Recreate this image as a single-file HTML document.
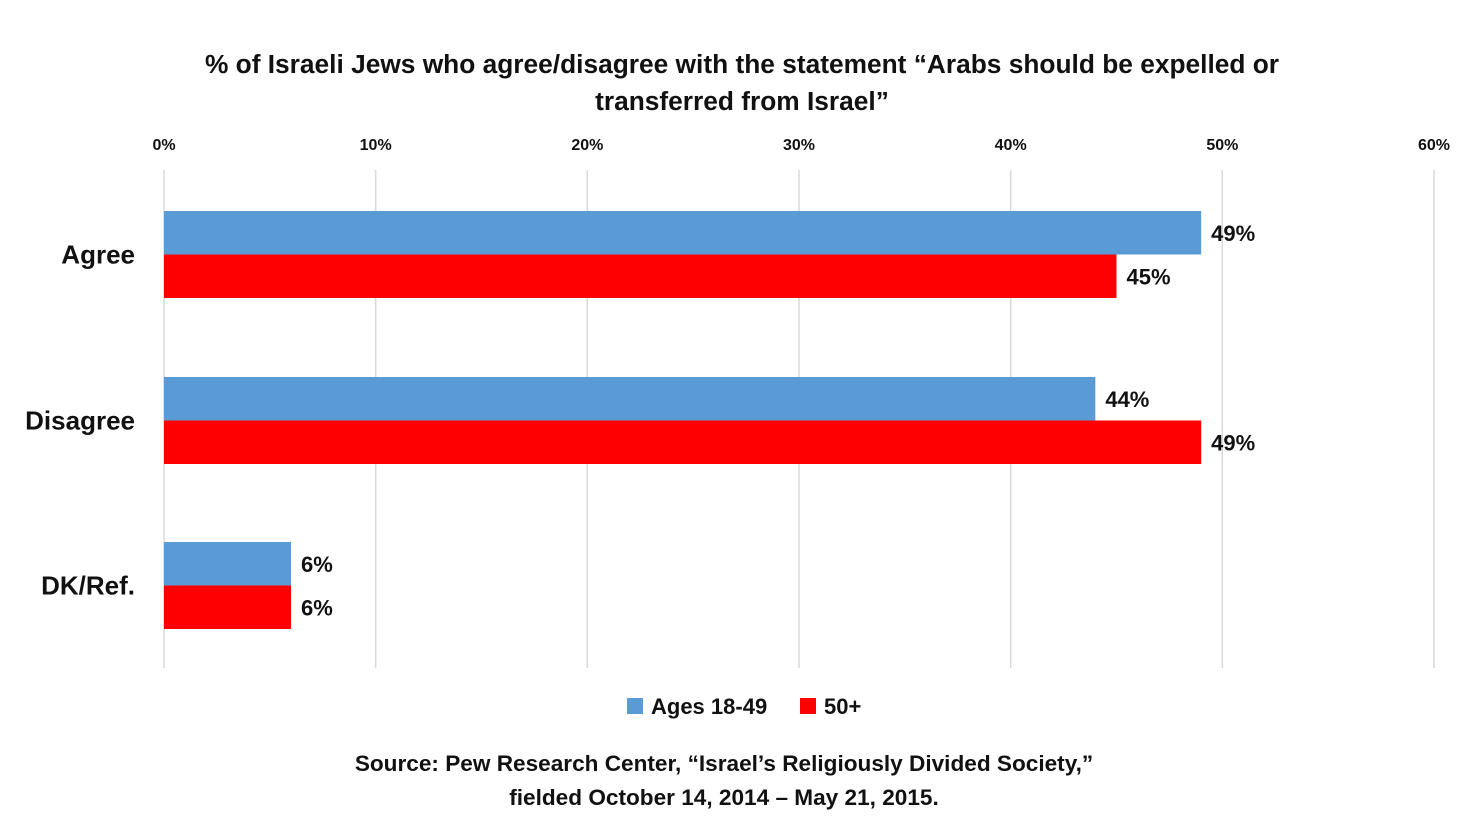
<!DOCTYPE html>
<html><head><meta charset="utf-8">
<style>
html,body{margin:0;padding:0;background:#fff;}
body{width:1484px;height:834px;overflow:hidden;font-family:"Liberation Sans",sans-serif;}
svg text{font-family:"Liberation Sans",sans-serif;font-weight:bold;fill:#111;}
</style></head>
<body>
<svg id="chart" width="1484" height="834" xmlns="http://www.w3.org/2000/svg">
<text x="742" y="73" text-anchor="middle" font-size="26.3">% of Israeli Jews who agree/disagree with the statement “Arabs should be expelled or</text>
<text x="742" y="110" text-anchor="middle" font-size="26.3">transferred from Israel”</text>
<g id="grid"></g>
<g id="bars"></g>
<g>
<rect x="627" y="698" width="16" height="16" fill="#5b9bd5"/>
<text x="651" y="714" font-size="22">Ages 18-49</text>
<rect x="800" y="698" width="16" height="16" fill="#ff0000"/>
<text x="824" y="714" font-size="22">50+</text>
</g>
<text x="724" y="771" text-anchor="middle" font-size="22.6">Source: Pew Research Center, “Israel’s Religiously Divided Society,”</text>
<text x="724" y="805" text-anchor="middle" font-size="22.6">fielded October 14, 2014 – May 21, 2015.</text>
</svg>
<script>
const categories = ["Agree","Disagree","DK/Ref."];
const youngValues = [49,44,6];
const olderValues = [45,49,6];
const tickValues = [0,10,20,30,40,50,60];
const tickLabels = ["0%","10%","20%","30%","40%","50%","60%"];

const NS="http://www.w3.org/2000/svg";
const x0=164, x1=1434, xMax=60;
const xs=v=>x0+(v/xMax)*(x1-x0);
const catTop=[211,377,542];
const barH=43.5;
function mk(tag,attrs,parent,text){const e=document.createElementNS(NS,tag);for(const k in attrs)e.setAttribute(k,attrs[k]);if(text!==undefined)e.textContent=text;parent.appendChild(e);return e;}
const grid=document.getElementById('grid');
tickValues.forEach((t,i)=>{
  const l=mk('line',{x1:xs(t),x2:xs(t),y1:170,y2:668,stroke:'#d9d9d9','stroke-width':1.5},grid);
  
  
  const tx=mk('text',{x:xs(t),y:150,'text-anchor':'middle','font-size':16},grid,tickLabels[i]);
  
  
});
const bars=document.getElementById('bars');
categories.forEach((c,i)=>{
  const top=catTop[i];
  const cl=mk('text',{x:135,y:top+barH+9,'text-anchor':'end','font-size':26},bars,c);
  
  
  [[youngValues[i],'#5b9bd5','young'],[olderValues[i],'#ff0000','older']].forEach((s,j)=>{
    const y=top+j*barH;
    const r=mk('rect',{x:x0,y:y,width:xs(s[0])-x0,height:barH,fill:s[1]},bars);
    
    
    const t=mk('text',{x:xs(s[0])+10,y:y+barH/2+8,'font-size':22},bars,s[0]+'%');
    
    
  });
});
</script>
</body></html>
